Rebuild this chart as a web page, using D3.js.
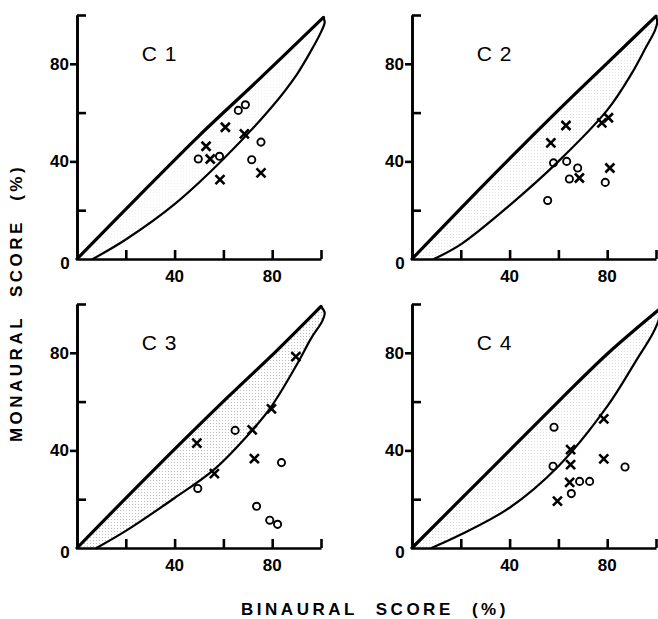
<!DOCTYPE html>
<html>
<head>
<meta charset="utf-8">
<script src="https://cdn.jsdelivr.net/npm/d3@7"></script>
<style>
  body { margin: 0; background: #fff; }
  svg { display: block; }
</style>
</head>
<body>
<div id="chart"></div>
<script>
// panel names
const panelNames = ["C 1", "C 2", "C 3", "C 4"];

// ticks
const xTicks = [20, 40, 60, 80, 100];
const yInnerTicks = [20, 60, 100];
const yLabelTicks = [40, 80];

// boundary curves [binaural, monaural]
const c1Upper = [[0,0],[25,25.5],[50,50.5],[75,74],[101,99]];
const c1Lower = [[6.5,0],[20,8],[40,22.5],[60,41],[80,62.5],[90,75.5],[96,85.5],[100,93],[101.5,97],[101,99]];
const c2Upper = [[0,0],[30,31],[60,61],[80,80.3],[100,99.5]];
const c2Lower = [[9,0],[20,6],[40,22],[60,40],[80,61],[90,76],[96,87],[99.5,93.5],[100.5,97],[100,99.5]];
const c3Upper = [[0,0],[30,30.5],[62,62],[82,81],[100,99]];
const c3Lower = [[8,0],[20,7],[40,20.5],[56,32],[72,48.5],[80,58.5],[90,75],[96,86],[100.5,93],[101.5,96.5],[100,99]];
const c4Upper = [[0,0],[30,30],[61,61],[80,79.5],[101,97.5]];
const c4Lower = [[8,0],[20,5.5],[40,16.5],[60,33.5],[80,58],[92,77],[99,88.5],[101.5,95],[101,97.5]];

// data points: circles (o) and crosses (x)
const c1Circles = [[49.7,41],[58.4,42.1],[66.1,60.9],[69,63.2],[75.4,47.9],[71.6,40.7]];
const c1Crosses = [[52.9,46.2],[54.6,41],[60.8,54],[68.6,51.3],[58.6,32.5],[75.4,35.3]];
const c2Circles = [[58,39.4],[63.4,40],[64.5,32.8],[67.9,37.3],[79.2,31.4],[55.6,24]];
const c2Crosses = [[56.9,47.6],[63.1,54.7],[77.8,55.8],[80.5,57.9],[68.6,33.2],[81.1,37.3]];
const c3Circles = [[49.5,24.4],[64.8,48.2],[73.6,17.1],[79,11.4],[82.2,9.7],[83.8,35]];
const c3Crosses = [[49.1,43],[56.3,30.5],[71.8,48.4],[72.7,36.6],[79.7,57],[89.7,78.4]];
const c4Circles = [[58.2,49.5],[57.8,33.5],[65.3,22.3],[68.7,27.3],[72.8,27.3],[87.3,33.2]];
const c4Crosses = [[65,40.3],[65,34.2],[64.6,26.9],[59.6,19.2],[78.6,52.9],[78.6,36.5]];

const uppers = [c1Upper, c2Upper, c3Upper, c4Upper];
const lowers = [c1Lower, c2Lower, c3Lower, c4Lower];
const circles = [c1Circles, c2Circles, c3Circles, c4Circles];
const crosses = [c1Crosses, c2Crosses, c3Crosses, c4Crosses];

const W = 658, H = 619;
const font = "'Liberation Sans', Arial, sans-serif";

const svg = d3.select("#chart").append("svg")
    .attr("width", W)
    .attr("height", H);

// stipple for the region between curves
const defs = svg.append("defs");
const shades = [0.12, 0.25, 0.55, 0.3];
shades.forEach((op, i) => {
    const p = defs.append("pattern")
        .attr("id", "stip" + i)
        .attr("patternUnits", "userSpaceOnUse")
        .attr("width", 3).attr("height", 3);
    p.append("rect").attr("width", 1).attr("height", 1)
        .attr("fill", "#888").attr("opacity", op);
});

// panel origins (pixel position of 0,0) and size
const originsX = [77, 412];
const originsY = [259, 548];
const size = 244;

panelNames.forEach((name, i) => {
    const col = i % 2, row = Math.floor(i / 2);
    const ox = originsX[col], oy = originsY[row];

    const x = d3.scaleLinear().domain([0, 100]).range([ox, ox + size]);
    const y = d3.scaleLinear().domain([0, 100]).range([oy, oy - size]);

    const g = svg.append("g");

    const line = d3.line()
        .x(d => x(d[0]))
        .y(d => y(d[1]))
        .curve(d3.curveCatmullRom.alpha(0.5));

    // shaded band
    const band = uppers[i].concat(lowers[i].slice().reverse());
    g.append("path")
        .attr("d", line(band) + "Z")
        .attr("fill", "url(#stip" + i + ")")
        .attr("stroke", "none");

    g.append("path")
        .attr("d", line(uppers[i]))
        .attr("fill", "none")
        .attr("stroke", "#000")
        .attr("stroke-width", 3.2)
        .attr("stroke-linecap", "round");

    g.append("path")
        .attr("d", line(lowers[i]))
        .attr("fill", "none")
        .attr("stroke", "#000")
        .attr("stroke-width", 2.2)
        .attr("stroke-linecap", "round");

    // axes
    const xAxis = g.append("g")
        .attr("transform", "translate(0," + oy + ")")
        .call(d3.axisBottom(x).tickValues(xTicks).tickSize(-9).tickSizeOuter(0).tickFormat(""));
    const yAxisIn = g.append("g")
        .attr("transform", "translate(" + ox + ",0)")
        .call(d3.axisLeft(y).tickValues(yInnerTicks).tickSize(-9).tickSizeOuter(0).tickFormat(""));
    const yAxisOut = g.append("g")
        .attr("transform", "translate(" + ox + ",0)")
        .call(d3.axisLeft(y).tickValues(yLabelTicks).tickSize(7).tickPadding(1).tickSizeOuter(0));

    [xAxis, yAxisIn, yAxisOut].forEach(a => {
        a.selectAll("path, line").attr("stroke", "#000").attr("stroke-width", 2.6);
    });
    yAxisOut.selectAll("text")
        .attr("font-family", font)
        .attr("font-size", 17)
        .attr("font-weight", "bold")
        .attr("fill", "#000");

    // x labels 40 and 80
    g.selectAll(".xl")
        .data(yLabelTicks)
        .enter().append("text")
        .attr("x", d => x(d))
        .attr("y", oy + 23)
        .attr("text-anchor", "middle")
        .attr("font-family", font)
        .attr("font-size", 17)
        .attr("font-weight", "bold")
        .text(d => d);

    // origin label
    g.append("text")
        .attr("x", ox - 12)
        .attr("y", oy + 10)
        .attr("text-anchor", "middle")
        .attr("font-family", font)
        .attr("font-size", 17)
        .attr("font-weight", "bold")
        .text("0");

    // panel title
    g.append("text")
        .attr("x", x(26.5))
        .attr("y", y(81))
        .attr("font-family", font)
        .attr("font-size", 21)
        .attr("letter-spacing", 1)
        .text(name);

    // circles
    g.selectAll(".o")
        .data(circles[i])
        .enter().append("circle")
        .attr("cx", d => x(d[0]))
        .attr("cy", d => y(d[1]))
        .attr("r", 3.6)
        .attr("fill", "none")
        .attr("stroke", "#000")
        .attr("stroke-width", 1.9);

    // crosses
    const s = 4.5;
    g.selectAll(".x")
        .data(crosses[i])
        .enter().append("path")
        .attr("d", d => {
            const cx = x(d[0]), cy = y(d[1]);
            return "M" + (cx - s) + "," + (cy - s) + "L" + (cx + s) + "," + (cy + s) +
                "M" + (cx - s) + "," + (cy + s) + "L" + (cx + s) + "," + (cy - s);
        })
        .attr("stroke", "#000")
        .attr("stroke-width", 2.6);
});

// axis titles
svg.append("text")
    .attr("x", 375)
    .attr("y", 615)
    .attr("text-anchor", "middle")
    .attr("font-family", font)
    .attr("font-size", 17)
    .attr("font-weight", "bold")
    .attr("letter-spacing", 3.5)
    .attr("word-spacing", 10)
    .text("BINAURAL SCORE (%)");

svg.append("text")
    .attr("transform", "translate(22,303) rotate(-90)")
    .attr("text-anchor", "middle")
    .attr("font-family", font)
    .attr("font-size", 17)
    .attr("font-weight", "bold")
    .attr("letter-spacing", 3.5)
    .attr("word-spacing", 10)
    .text("MONAURAL SCORE (%)");
</script>
</body>
</html>
